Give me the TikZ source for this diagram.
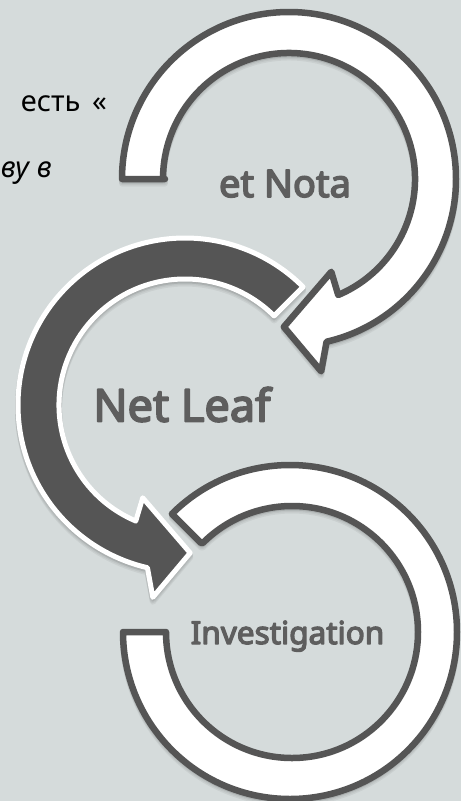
\documentclass[tikz,border=0pt]{standalone}
\usepackage{fontspec}
\setmainfont{Noto Sans}
\newfontfamily\labfont{Noto Sans}[FakeBold=4]
\definecolor{bg}{HTML}{D5DBDB}
\definecolor{dark}{HTML}{555555}
\definecolor{lbl}{HTML}{5E5E5E}
\newcommand\pathBottom{(135:126) -- (135:167) arc[start angle=135,end angle=-180,radius=167]
  -- (180:124) arc[start angle=-180,end angle=135,radius=126] -- cycle}
\newcommand\pathMiddle{(45:126) -- (45:167) arc[start angle=45,end angle=257,radius=167]
  -- (260.5:195) -- (272:148) -- (245.5:102) -- (247:126)
  arc[start angle=247,end angle=45,radius=126] -- cycle}
\newcommand\pathTop{(180:124) -- (180:167) arc[start angle=180,end angle=-77,radius=167]
  -- (-80.5:195) -- (-92:148) -- (-65.5:102) -- (-67:126)
  arc[start angle=-67,end angle=180,radius=126] -- cycle}
\begin{document}
\begin{tikzpicture}[x=1pt,y=1pt, line join=round,
  ringw/.style={fill=white, draw=dark, line width=6.5pt},
  ringd/.style={fill=dark, draw=white, line width=5pt},
  shad/.style={draw=black, fill=black, line width=6pt, opacity=0.05},
  lab/.style={text=lbl, inner sep=0pt, anchor=base},
  body/.style={text=black, inner sep=0pt, anchor=base east, font=\fontsize{29}{32}\selectfont}]
\fill[bg] (0,0) rectangle (461,-801);
\useasboundingbox (0,0) rectangle (461,-801);
% bottom block arc
\begin{scope}[shift={(290,-632)}]
\foreach \d in {1.5,3,4.5} {\path[shad, yshift=-\d pt] \pathBottom;}
\draw[ringw] \pathBottom;
\end{scope}
% middle dark arrow
\begin{scope}[shift={(185,-405)}]
\foreach \d in {1.5,3,4.5} {\path[shad, yshift=-\d pt] \pathMiddle;}
\draw[ringd] \pathMiddle;
\end{scope}
% top arrow
\begin{scope}[shift={(289,-179)}]
\foreach \d in {1.5,3,4.5} {\path[shad, yshift=-\d pt] \pathTop;}
\draw[ringw] \pathTop;
\end{scope}
\node[lab, font=\labfont\fontsize{38}{42}\selectfont] (t1) at (285,-197) {et Nota};
\node[lab, font=\labfont\fontsize{45}{48}\selectfont] (t2) at (182,-421.5) {Net Leaf};
\node[lab, font=\labfont\fontsize{31.5}{35}\selectfont] (t3) at (287.5,-644) {Investigation};
\node[body] (b1) at (107,-111.7) {есть\hspace{0.4em}«};
\node[body, font=\itshape\fontsize{29}{32}\selectfont] (b2) at (52,-177) {ву в};
\end{tikzpicture}
\end{document}
